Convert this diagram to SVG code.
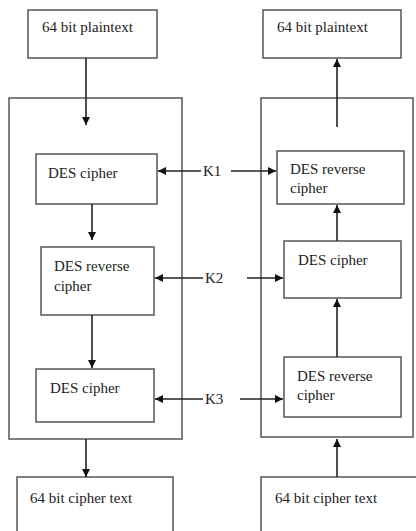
<svg xmlns="http://www.w3.org/2000/svg" width="416" height="531" viewBox="0 0 416 531" font-family="Liberation Serif, Times New Roman, DejaVu Serif, Noto Serif, serif">
<defs>
<marker id="ah" viewBox="0 0 10 10" refX="10" refY="5" markerWidth="8" markerHeight="8" markerUnits="userSpaceOnUse" orient="auto">
<path d="M0,0 L10,5 L0,10 z" fill="#111"/>
</marker>
<style>
rect{fill:#fff;stroke:#555;stroke-width:1.5}
text{font-size:15px;fill:#222}
.c line{stroke:#222;stroke-width:1.6;marker-end:url(#ah)}
</style>
</defs>
<rect x="0" y="0" width="416" height="531" style="fill:#fff;stroke:none"/>
<g id="left-outer"><rect x="9" y="98" width="173" height="341"/></g>
<g id="right-outer"><rect x="261" y="98" width="152" height="339"/></g>
<g id="left-plain"><rect x="28" y="10" width="129" height="48"/><text x="42" y="32">64 bit plaintext</text></g>
<g id="right-plain"><rect x="263" y="10" width="138" height="48"/><text x="277" y="32">64 bit plaintext</text></g>
<g id="left-des1"><rect x="36" y="154" width="121" height="50"/><text x="48" y="178">DES cipher</text></g>
<g id="left-des2"><rect x="41" y="247" width="113" height="68"/><text x="54" y="271">DES reverse</text><text x="54" y="291">cipher</text></g>
<g id="left-des3"><rect x="36" y="369" width="118" height="53"/><text x="50" y="393">DES cipher</text></g>
<g id="left-cipher"><rect x="17" y="477" width="156" height="60"/><text x="30" y="503">64 bit cipher text</text></g>
<g id="right-des1"><rect x="277" y="151" width="127" height="53"/><text x="290" y="174">DES reverse</text><text x="290" y="193">cipher</text></g>
<g id="right-des2"><rect x="284" y="241" width="117" height="57"/><text x="298" y="265">DES cipher</text></g>
<g id="right-des3"><rect x="284" y="357" width="117" height="60"/><text x="297" y="381">DES reverse</text><text x="297" y="400">cipher</text></g>
<g id="right-cipher"><rect x="261" y="477" width="162" height="60"/><text x="275" y="503">64 bit cipher text</text></g>
<g id="k1"><text x="203" y="176">K1</text></g>
<g id="k2"><text x="205" y="283">K2</text></g>
<g id="k3"><text x="205" y="404">K3</text></g>
<g class="c" id="connectors">
<line x1="86" y1="58" x2="86" y2="125"/>
<line x1="92" y1="204" x2="92" y2="240"/>
<line x1="92" y1="315" x2="92" y2="368"/>
<line x1="86" y1="439" x2="86" y2="477"/>
<line x1="337" y1="127" x2="337" y2="59"/>
<line x1="337" y1="241" x2="337" y2="205"/>
<line x1="337" y1="357" x2="337" y2="299"/>
<line x1="337" y1="477" x2="337" y2="439"/>
<line x1="201" y1="171" x2="158" y2="171"/>
<line x1="231" y1="171" x2="276" y2="171"/>
<line x1="203" y1="278" x2="155" y2="278"/>
<line x1="247" y1="278" x2="283" y2="278"/>
<line x1="203" y1="399" x2="155" y2="399"/>
<line x1="240" y1="399" x2="283" y2="399"/>
</g>
</svg>
